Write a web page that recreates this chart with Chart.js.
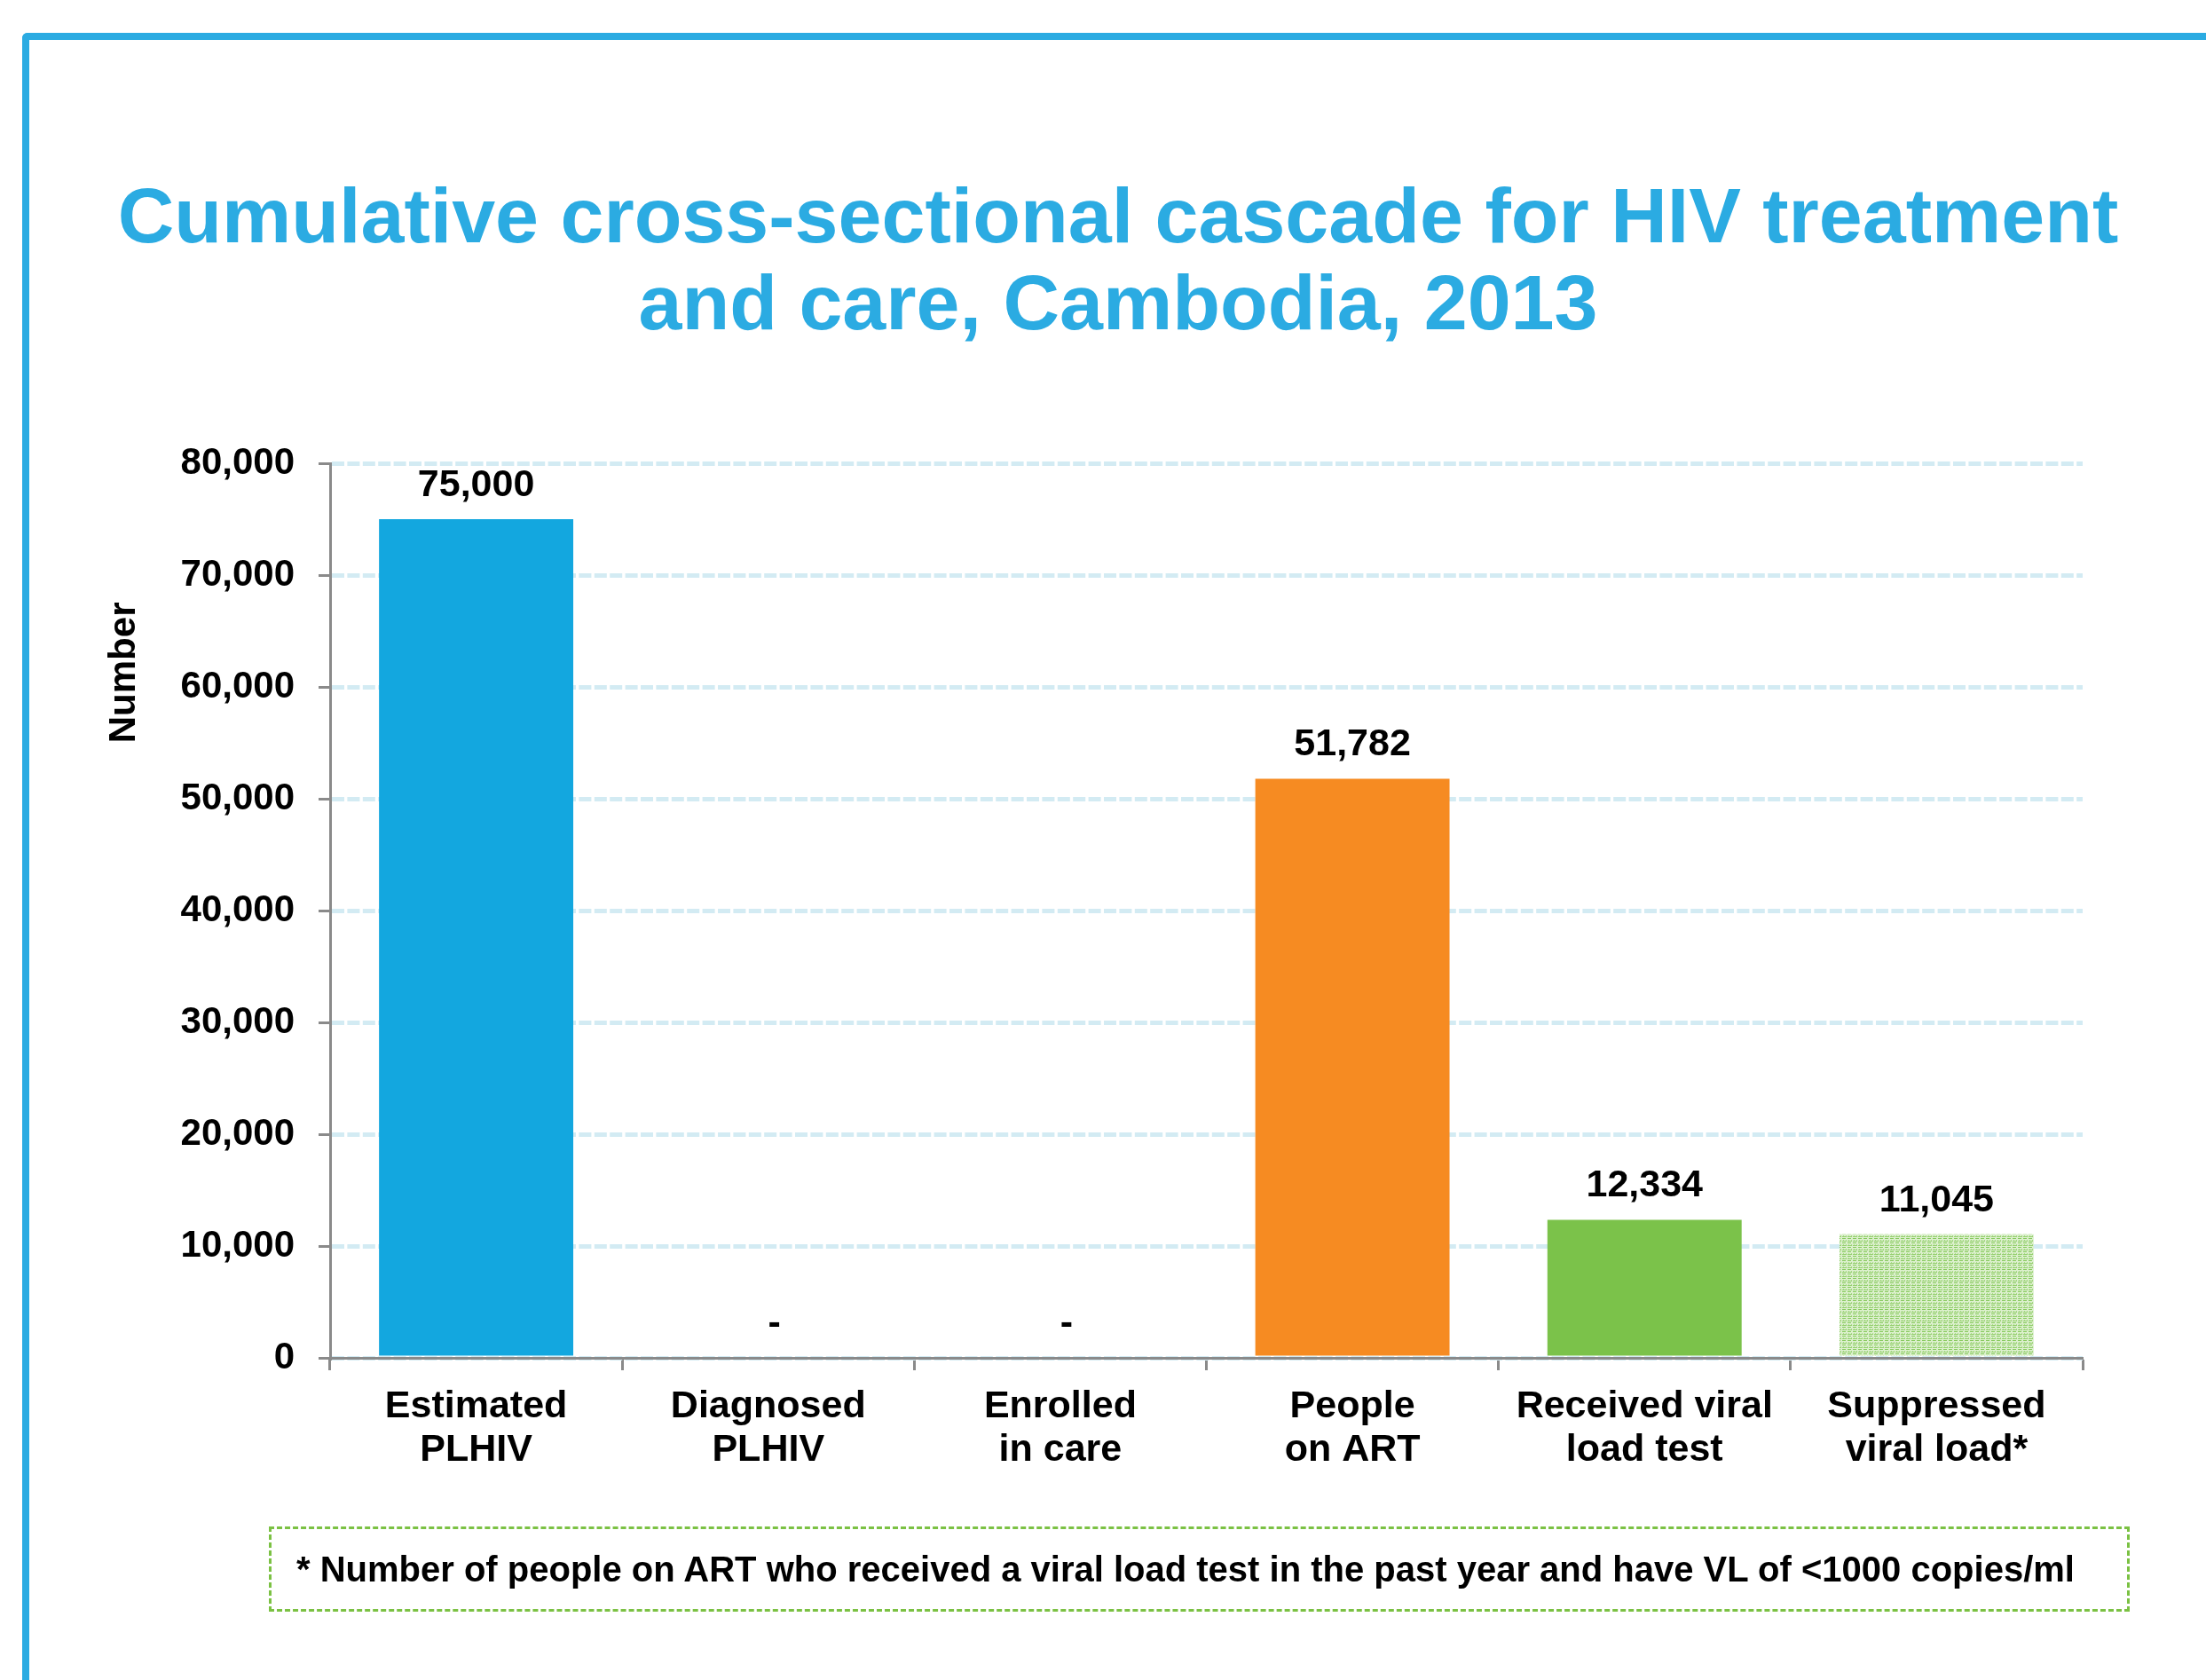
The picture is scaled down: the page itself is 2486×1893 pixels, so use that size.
<!DOCTYPE html>
<html>
<head>
<meta charset="utf-8">
<script src="https://cdn.jsdelivr.net/npm/chart.js@4.4.1/dist/chart.umd.min.js"></script>
<style>
  html, body { margin: 0; padding: 0; background: #fff; }
  body { width: 2486px; height: 1893px; position: relative; overflow: hidden; font-family: "Liberation Sans", Arial, sans-serif; }
  #frame {
    position: absolute; left: 25px; top: 37px; width: 2600px; height: 2000px;
    border-top: 8px solid #2babe2; border-left: 8px solid #2babe2; border-top-left-radius: 6px;
  }
  #title {
    position: absolute; left: 17px; top: 194px; width: 2486px;
    text-align: center; color: #2babe2; font-weight: bold; font-size: 88px; line-height: 98px;
    white-space: nowrap;
  }
  #wrap { position: absolute; left: 0; top: 0; width: 2486px; height: 1893px; }
  #note {
    position: absolute; left: 303px; top: 1720px; width: 2097px; height: 96px;
    border: 3px dashed #7bc143; box-sizing: border-box;
    font-weight: bold; font-size: 40px; color: #000;
    display: flex; align-items: center; padding-left: 28px; white-space: nowrap;
  }
</style>
</head>
<body>
<div id="frame"></div>
<div id="title">Cumulative cross-sectional cascade for HIV treatment<br>and care, Cambodia, 2013</div>
<div id="wrap"><canvas id="chart" width="2486" height="1893"></canvas></div>
<div id="note">* Number of people on ART who received a viral load test in the past year and have VL of &lt;1000 copies/ml</div>
<script>
// cascade data
const categories = [
  ['Estimated', 'PLHIV'],
  ['Diagnosed', 'PLHIV'],
  ['Enrolled', 'in care'],
  ['People', 'on ART'],
  ['Received viral', 'load test'],
  ['Suppressed', 'viral load*']
];
const values = [75000, null, null, 51782, 12334, 11045];
const yTicks = [0, 10000, 20000, 30000, 40000, 50000, 60000, 70000, 80000];

const fontFam = '"Liberation Sans", Arial, sans-serif';

// dotted light green fill for the last bar
function makePattern() {
  const c = document.createElement('canvas');
  c.width = 6; c.height = 5;
  const g = c.getContext('2d');
  g.fillStyle = '#dcf0cd';
  g.fillRect(0, 0, 6, 5);
  g.fillStyle = '#86c95c';
  g.fillRect(0, 0, 4, 1);
  g.fillStyle = '#a9d98b';
  g.fillRect(1, 2, 1, 1);
  g.fillRect(4, 2, 1, 1);
  g.fillStyle = '#95d06f';
  g.fillRect(0, 3, 5, 1);
  return g.createPattern(c, 'repeat');
}

const barColors = ['#13a7df', '#13a7df', '#13a7df', '#f68b22', '#7bc24a', makePattern()];

const valueLabels = {
  id: 'valueLabels',
  afterDatasetsDraw(chart) {
    const ctx = chart.ctx;
    const meta = chart.getDatasetMeta(0);
    const yScale = chart.scales.y;
    ctx.save();
    ctx.fillStyle = '#000';
    ctx.font = 'bold 43px ' + fontFam;
    ctx.textAlign = 'center';
    ctx.textBaseline = 'middle';
    meta.data.forEach((bar, i) => {
      const v = values[i];
      if (v == null) {
        ctx.fillText('-', bar.x + 7, yScale.getPixelForValue(0) - 38);
      } else {
        ctx.fillText(v.toLocaleString('en-US'), bar.x, bar.y - 38);
      }
    });
    // y axis title, placed high like the original
    const area = chart.chartArea;
    ctx.translate(140, area.top + (area.bottom - area.top) * 0.234);
    ctx.rotate(-Math.PI / 2);
    ctx.font = 'bold 42px ' + fontFam;
    ctx.fillText('Number', 0, 0);
    ctx.restore();
  }
};

new Chart(document.getElementById('chart'), {
  type: 'bar',
  data: {
    labels: categories,
    datasets: [{
      data: values,
      backgroundColor: barColors,
      barPercentage: 0.665,
      categoryPercentage: 1.0
    }]
  },
  plugins: [valueLabels],
  options: {
    responsive: false,
    animation: false,
    events: [],
    layout: { padding: { left: 200, right: 139, top: 522, bottom: 213 } },
    plugins: {
      legend: { display: false },
      tooltip: { enabled: false },
      title: { display: false }
    },
    scales: {
      x: {
        afterFit(s) { s.height = 150; },
        grid: {
          display: true, drawOnChartArea: false, offset: true,
          tickLength: 14, tickWidth: 3, tickColor: '#8a8a8a', tickBorderDash: [], color: '#8a8a8a'
        },
        border: { display: true, color: '#8a8a8a', width: 3 },
        ticks: {
          color: '#000', padding: 16, maxRotation: 0, autoSkip: false,
          font: { family: fontFam, size: 43, weight: 'bold', lineHeight: 1.15 }
        }
      },
      y: {
        min: 0, max: 80000,
        afterFit(s) { s.width = 172; },
        afterBuildTicks(s) { s.ticks = yTicks.map(v => ({ value: v })); },
        grid: {
          color: '#d3ebf3', lineWidth: 5,
          tickLength: 13, tickWidth: 3, tickColor: '#8a8a8a', tickBorderDash: []
        },
        border: { display: true, color: '#8a8a8a', width: 3, dash: [14, 3.4] },
        ticks: {
          color: '#000', padding: 27,
          font: { family: fontFam, size: 42, weight: 'bold' },
          callback: v => v.toLocaleString('en-US')
        }
      }
    }
  }
});
</script>
</body>
</html>
